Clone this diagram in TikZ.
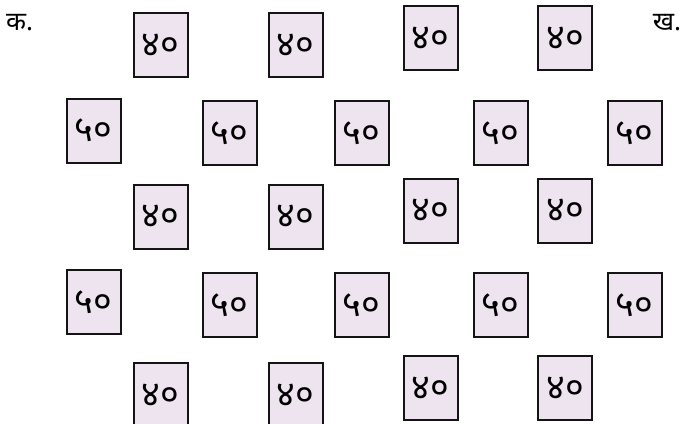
\documentclass[tikz,border=0pt]{standalone}
\usepackage{fontspec}
\newfontfamily\deva[Script=Devanagari]{Noto Sans}
\definecolor{cardfill}{RGB}{238,228,240}
\definecolor{cardline}{RGB}{20,20,20}
\begin{document}
\begin{tikzpicture}[x=1pt,y=-1pt,
  card/.style={draw=cardline,fill=cardfill,line width=2pt,minimum width=54pt,minimum height=64pt,inner sep=0pt,font=\deva\fontsize{36}{36}\selectfont},
  lbl/.style={inner sep=0pt,font=\deva\fontsize{26}{26}\selectfont}]
\useasboundingbox (0,0) rectangle (680,423);
\fill[white] (0,0) rectangle (680,423);
\node[lbl] (ka) at (19.5,23) {क.};
\node[lbl] (kha) at (667,23) {ख.};
% row 1
\node[card] (a1) at (160.5,45) {४०};
\node[card] (a2) at (295.5,45) {४०};
\node[card] (a3) at (430.5,38) {४०};
\node[card] (a4) at (565,38) {४०};
% row 2
\node[card] (b1) at (93.5,130.5) {५०};
\node[card] (b2) at (229.5,133) {५०};
\node[card] (b3) at (361.5,133) {५०};
\node[card] (b4) at (500.5,133) {५०};
\node[card] (b5) at (634.5,133) {५०};
% row 3
\node[card] (c1) at (160.5,216.5) {४०};
\node[card] (c2) at (295.5,216.5) {४०};
\node[card] (c3) at (430.5,210.5) {४०};
\node[card] (c4) at (565,210.5) {४०};
% row 4
\node[card] (d1) at (93.5,302) {५०};
\node[card] (d2) at (229.5,305) {५०};
\node[card] (d3) at (361.5,305) {५०};
\node[card] (d4) at (500.5,305) {५०};
\node[card] (d5) at (634.5,305) {५०};
% row 5
\node[card] (e1) at (160.5,395) {४०};
\node[card] (e2) at (295.5,395) {४०};
\node[card] (e3) at (430.5,388) {४०};
\node[card] (e4) at (565,388) {४०};
\end{tikzpicture}
\end{document}
